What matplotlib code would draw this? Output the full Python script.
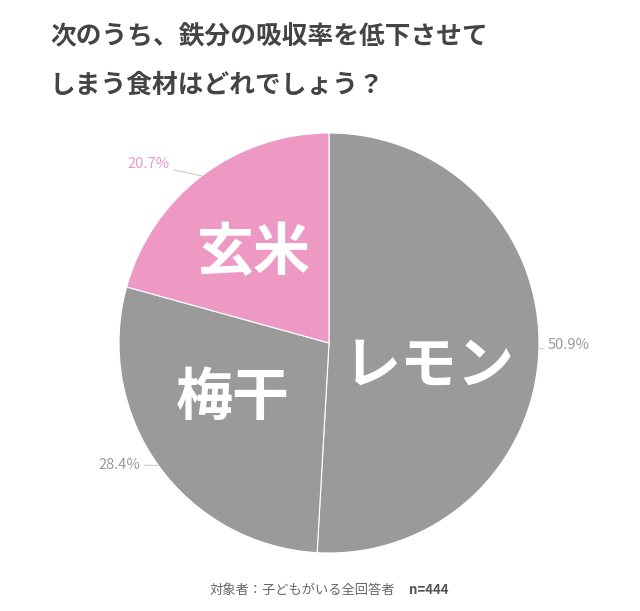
import matplotlib.pyplot as plt
import numpy as np

plt.rcParams['font.family'] = ['Noto Sans CJK JP', 'DejaVu Sans']

# data
labels = ['レモン', '梅干', '玄米']
values = [50.9, 28.4, 20.7]
colors = ['#9a9a9a', '#9a9a9a', '#ee99c4']
pct_colors = ['#9a9a9a', '#9a9a9a', '#ee99c4']
title = '次のうち、鉄分の吸収率を低下させて\nしまう食材はどれでしょう？'
note = '対象者：子どもがいる全回答者'
n_text = 'n=444'

# text placement (pie radius units)
name_pos = [(0.48, -0.11), (-0.46, -0.26), (-0.36, 0.43)]
pct_pos = [(1.04, -0.01), (-0.90, -0.58), (-0.76, 0.85)]

W, H = 640, 611
fig = plt.figure(figsize=(6.4, 6.11), dpi=100)
fig.patch.set_facecolor('white')

R = 210
cx, cy = 329, 343
lim = 1.3
side = 2 * R * lim
ax = fig.add_axes([(cx - side / 2) / W, (H - cy - side / 2) / H, side / W, side / H])

wedges, _ = ax.pie(values, colors=colors, startangle=90, counterclock=False,
                   wedgeprops=dict(edgecolor='white', linewidth=0.8))
ax.set_xlim(-lim, lim)
ax.set_ylim(-lim, lim)
ax.set_aspect('equal')
ax.axis('off')

for w, v, c, (tx, ty) in zip(wedges, values, pct_colors, pct_pos):
    ang = np.deg2rad((w.theta1 + w.theta2) / 2)
    x, y = np.cos(ang), np.sin(ang)
    ha = 'left' if tx > 0 else 'right'
    ax.annotate(f'{v}%', xy=(x, y), xytext=(tx, ty), ha=ha, va='center',
                fontsize=10.5, color=c,
                arrowprops=dict(arrowstyle='-', color='#bbbbbb', lw=0.6,
                                shrinkA=1, shrinkB=0))

for name, (px, py) in zip(labels, name_pos):
    ax.text(px, py, name, ha='center', va='center', fontsize=41,
            color='white', fontweight='bold')

fig.text(50 / W, 1 - 61 / H, title, ha='left', va='center', fontsize=18.5,
         fontweight='bold', color='#444444', linespacing=2.0)

fig.text(210 / W, 1 - 590 / H, note, ha='left', va='center',
         fontsize=9.5, color='#666666')
fig.text(448 / W, 1 - 590 / H, n_text, ha='right', va='center',
         fontsize=9.5, color='#555555', fontweight='bold')

fig.savefig('out.png', dpi=100, facecolor='white')
